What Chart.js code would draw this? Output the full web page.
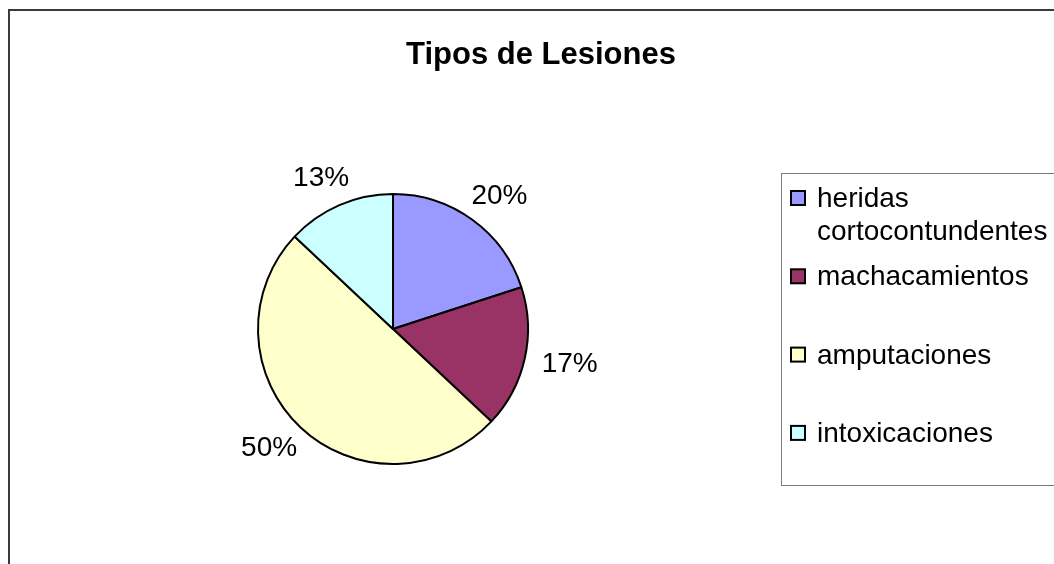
<!DOCTYPE html>
<html>
<head>
<meta charset="utf-8">
<script src="https://cdn.jsdelivr.net/npm/chart.js@4"></script>
<style>
    html, body { margin: 0; padding: 0; background: #fff; overflow: hidden; }
    #wrap { position: relative; width: 1054px; height: 564px; }
    #frame {
        position: absolute; left: 8px; top: 9px; width: 2000px; height: 2000px;
        border-top: 2px solid #3a3a3a; border-left: 2px solid #3a3a3a;
    }
    #lesionesChart { position: absolute; left: 0; top: 0; }
</style>
</head>
<body>
<div id="wrap">
    <div id="frame"></div>
    <canvas id="lesionesChart" width="1054" height="564"></canvas>
</div>
<script>
// --------------------
// Data
// --------------------
const chartTitle = 'Tipos de Lesiones';
const categories = ['heridas cortocontundentes', 'machacamientos', 'amputaciones', 'intoxicaciones'];
const percentages = [20, 17, 50, 13];
const sliceColors = ['#9999FF', '#993366', '#FFFFCC', '#CCFFFF'];

const FONT = "'Liberation Sans', Arial, sans-serif";

// --------------------
// Title + percentage labels
// --------------------
const excelLabels = {
    id: 'excelLabels',
    afterDraw(chart) {
        const ctx = chart.ctx;
        ctx.save();

        // title
        ctx.fillStyle = '#000';
        ctx.font = 'bold 31px ' + FONT;
        ctx.textAlign = 'center';
        ctx.textBaseline = 'alphabetic';
        ctx.fillText(chartTitle, 541, 64);

        // slice labels, placed just outside each slice
        ctx.font = '28px ' + FONT;
        ctx.textBaseline = 'middle';
        const data = chart.data.datasets[0].data;
        const total = data.reduce((a, b) => a + b, 0);
        chart.getDatasetMeta(0).data.forEach((arc, i) => {
            const p = arc.getProps(['x', 'y', 'startAngle', 'endAngle', 'outerRadius'], true);
            const mid = (p.startAngle + p.endAngle) / 2;
            const dx = Math.cos(mid), dy = Math.sin(mid);
            const text = Math.round(data[i] / total * 100) + '%';
            const w = ctx.measureText(text).width;
            const h = 22;
            const r = p.outerRadius + 18;
            const x = p.x + dx * r + dx * w / 2;
            const y = p.y + dy * r + dy * h / 2;
            ctx.fillText(text, x, y);
        });

        ctx.restore();
    }
};

// --------------------
// Legend box (Excel style)
// --------------------
const excelLegend = {
    id: 'excelLegend',
    afterDraw(chart) {
        const ctx = chart.ctx;
        const ds = chart.data.datasets[0];
        ctx.save();

        ctx.strokeStyle = '#7a7a7a';
        ctx.lineWidth = 1;
        ctx.strokeRect(781.5, 173.5, 400, 312);

        ctx.font = '28px ' + FONT;
        ctx.textAlign = 'left';
        ctx.textBaseline = 'alphabetic';

        const textX = 817;
        const maxW = 1054 - textX;
        chart.data.labels.forEach((label, i) => {
            const yc = 198 + i * 78.3;

            ctx.fillStyle = ds.backgroundColor[i];
            ctx.fillRect(791, yc - 7, 14, 14);
            ctx.strokeStyle = '#000';
            ctx.lineWidth = 2;
            ctx.strokeRect(791, yc - 7, 14, 14);

            // wrap long labels word by word
            const words = label.split(' ');
            const lines = [];
            let line = '';
            words.forEach(word => {
                const test = line ? line + ' ' + word : word;
                if (line && ctx.measureText(test).width > maxW) {
                    lines.push(line);
                    line = word;
                } else {
                    line = test;
                }
            });
            lines.push(line);

            ctx.fillStyle = '#000';
            lines.forEach((l, k) => ctx.fillText(l, textX, yc + 9 + k * 33));
        });

        ctx.restore();
    }
};

// --------------------
// Chart instance
// --------------------
new Chart(document.getElementById('lesionesChart').getContext('2d'), {
    type: 'pie',
    data: {
        labels: categories,
        datasets: [{
            data: percentages,
            backgroundColor: sliceColors,
            borderColor: '#000',
            borderWidth: 2
        }]
    },
    options: {
        responsive: false,
        animation: false,
        layout: { padding: { left: 257, top: 193, right: 525, bottom: 99 } },
        plugins: {
            legend: { display: false },
            title: { display: false },
            tooltip: { enabled: false }
        }
    },
    plugins: [excelLabels, excelLegend]
});
</script>
</body>
</html>
